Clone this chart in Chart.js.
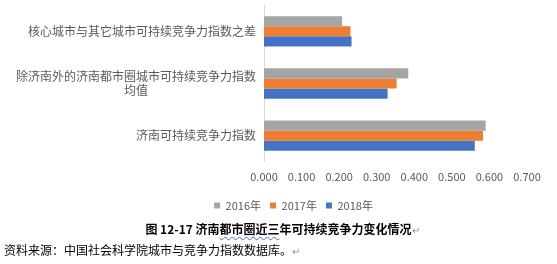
<!DOCTYPE html>
<html>
<head>
<meta charset="utf-8">
<script src="https://cdn.jsdelivr.net/npm/chart.js@4/dist/chart.umd.min.js"></script>
<style>
  html, body { margin: 0; padding: 0; background: #fff; }
  body { width: 557px; height: 264px; position: relative; overflow: hidden; font-family: "Noto Sans CJK SC", sans-serif; }
  #box { position: absolute; left: 0; top: -10px; width: 557px; height: 231px; }
  .caption { position: absolute; left: 0; width: 557px; top: 220px; text-align: center; font-size: 12px; font-weight: bold; color: #000; padding-left: 8px; box-sizing: border-box; }
  .source { position: absolute; left: 4px; top: 241px; font-size: 12px; color: #000; }
  .mark { color: #8c8c8c; font-weight: normal; font-size: 10px; }
  .wavy { text-decoration: underline wavy #4a6fc9; text-decoration-thickness: 1px; text-underline-offset: 2px; }
</style>
</head>
<body>
<div id="box"><canvas id="chart"></canvas></div>
<div class="caption">图 12-17 济南<span class="wavy">都市圈近三</span>年可持续竞争力变化情况<span class="mark">↵</span></div>
<div class="source">资料来源：中国社会科学院城市与竞争力指数数据库。<span class="mark">↵</span></div>
<script>
// 카테고리 (위에서 아래 순서)
const categories = [
    ['核心城市与其它城市可持续竞争力指数之差'],
    ['除济南外的济南都市圈城市可持续竞争力指数', '均值\u3000\u3000\u3000\u3000\u3000\u3000\u3000\u3000\u3000'],
    ['济南可持续竞争力指数']
];
const years = ['2016年', '2017年', '2018年'];
const values2016 = [0.208, 0.384, 0.590];
const values2017 = [0.230, 0.353, 0.583];
const values2018 = [0.233, 0.329, 0.561];
const xTickLabels = ['0.000', '0.100', '0.200', '0.300', '0.400', '0.500', '0.600', '0.700'];

const colors = ['#A5A5A5', '#ED7D31', '#4472C4'];
const series = [values2016, values2017, values2018];

Chart.defaults.font.family = '"Noto Sans CJK SC", "Noto Sans", sans-serif';
Chart.defaults.color = '#595959';

// 범례 위치 보정 (원본처럼 조금 오른쪽으로)
const legendShift = {
    id: 'legendShift',
    afterLayout(chart) {
        chart.legend.left += 26;
        chart.legend.right += 26;
    }
};

const ctx = document.getElementById('chart').getContext('2d');
new Chart(ctx, {
    type: 'bar',
    data: {
        labels: categories,
        datasets: years.map((y, i) => ({
            label: y,
            data: series[i],
            backgroundColor: colors[i],
            borderWidth: 0,
            barPercentage: 1,
            categoryPercentage: 0.58
        }))
    },
    options: {
        indexAxis: 'y',
        responsive: true,
        maintainAspectRatio: false,
        animation: false,
        devicePixelRatio: 1,
        layout: { padding: { left: 8, right: 30, top: 4, bottom: 0 } },
        scales: {
            x: {
                min: 0,
                max: 0.7,
                grid: { display: false, drawTicks: false },
                border: { display: false },
                ticks: {
                    stepSize: 0.1,
                    padding: 8,
                    font: { size: 11 },
                    color: '#595959',
                    callback: (v, i) => xTickLabels[i]
                }
            },
            y: {
                grid: { display: false, drawTicks: false },
                border: { display: true, color: '#D9D9D9', width: 1 },
                ticks: {
                    padding: 8,
                    font: { size: 12 },
                    color: '#595959'
                }
            }
        },
        plugins: {
            legend: {
                position: 'bottom',
                labels: {
                    boxWidth: 6,
                    boxHeight: 6,
                    padding: 9,
                    font: { size: 11 },
                    color: '#595959'
                }
            },
            tooltip: { enabled: false }
        }
    },
    plugins: [legendShift]
});
</script>
</body>
</html>
